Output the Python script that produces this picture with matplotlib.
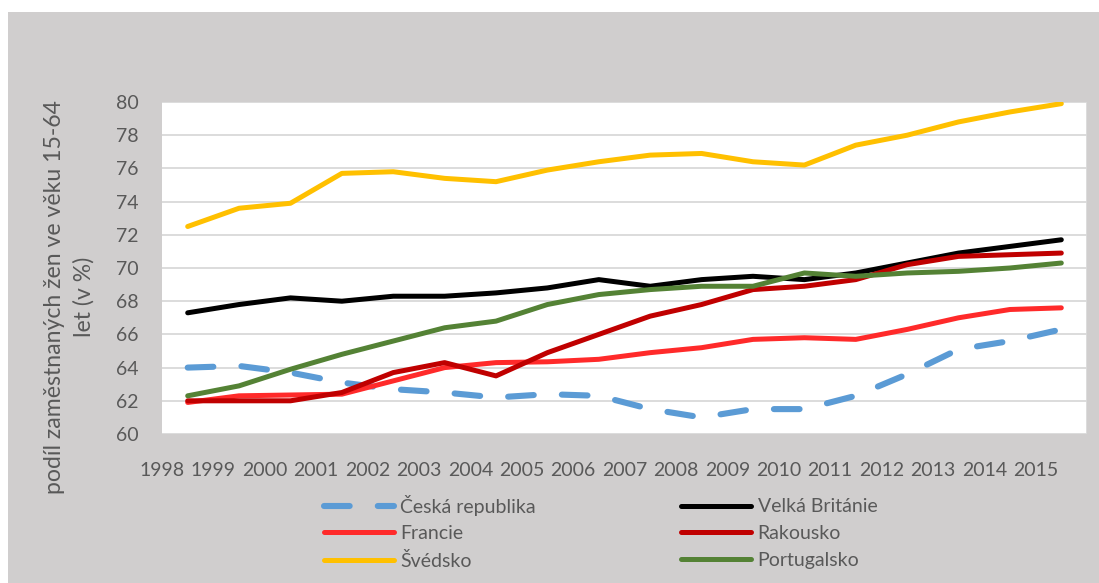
import numpy as np
import matplotlib
matplotlib.use("Agg")
import matplotlib.pyplot as plt
from matplotlib.patches import Rectangle

years = [1998, 1999, 2000, 2001, 2002, 2003, 2004, 2005, 2006,
         2007, 2008, 2009, 2010, 2011, 2012, 2013, 2014, 2015]

cesko = [64.0, 64.1, 63.7, 63.1, 62.7, 62.5, 62.2, 62.4, 62.3,
         61.5, 61.0, 61.5, 61.5, 62.3, 63.6, 65.1, 65.6, 66.3]
velka_britanie = [67.3, 67.8, 68.2, 68.0, 68.3, 68.3, 68.5, 68.8, 69.3,
                  68.9, 69.3, 69.5, 69.3, 69.7, 70.3, 70.9, 71.3, 71.7]
francie = [61.9, 62.3, 62.35, 62.4, 63.2, 64.0, 64.3, 64.35, 64.5,
           64.9, 65.2, 65.7, 65.8, 65.7, 66.3, 67.0, 67.5, 67.6]
rakousko = [62.0, 62.0, 62.0, 62.5, 63.7, 64.3, 63.5, 64.9, 66.0,
            67.1, 67.8, 68.7, 68.9, 69.3, 70.2, 70.7, 70.8, 70.9]
svedsko = [72.5, 73.6, 73.9, 75.7, 75.8, 75.4, 75.2, 75.9, 76.4,
           76.8, 76.9, 76.4, 76.2, 77.4, 78.0, 78.8, 79.4, 79.9]
portugalsko = [62.3, 62.9, 63.9, 64.8, 65.6, 66.4, 66.8, 67.8, 68.4,
               68.7, 68.9, 68.9, 69.7, 69.5, 69.7, 69.8, 70.0, 70.3]

TEXT = "#595959"
plt.rcParams["font.family"] = ["Lato", "DejaVu Sans"]

fig = plt.figure(figsize=(10.99, 5.83), dpi=100)
fig.patch.set_facecolor("white")
fig.patches.append(Rectangle((8 / 1099, 0), 1, 1 - 12 / 583, transform=fig.transFigure,
                             facecolor="#D0CECE", edgecolor="none", zorder=-10))

ax = fig.add_axes([162 / 1099, 1 - 434 / 583, 925 / 1099, 332 / 583])
ax.set_facecolor("white")

x = np.arange(len(years))
lw = 3.6
l_cz, = ax.plot(x, cesko, color="#5B9BD5", lw=4.4, dashes=(4.2, 4.6),
                dash_capstyle="round", solid_capstyle="round", label="Česká republika")
l_vb, = ax.plot(x, velka_britanie, color="black", lw=lw, solid_capstyle="round",
                label="Velká Británie")
l_fr, = ax.plot(x, francie, color="#FF2A2A", lw=lw, solid_capstyle="round", label="Francie")
l_at, = ax.plot(x, rakousko, color="#C00000", lw=lw, solid_capstyle="round", label="Rakousko")
l_se, = ax.plot(x, svedsko, color="#FFC000", lw=lw, solid_capstyle="round", label="Švédsko")
l_pt, = ax.plot(x, portugalsko, color="#548235", lw=lw, solid_capstyle="round",
                label="Portugalsko")

ax.set_xlim(-0.5, len(years) - 0.5)
ax.set_ylim(60, 80)
ax.set_yticks(np.arange(60, 81, 2))
ax.set_xticks(x - 0.5)
ax.set_xticklabels([str(y) for y in years])
ax.set_xticks(np.arange(-0.5, len(years), 1), minor=True)

ax.grid(True, which="minor", axis="x", color="#D9D9D9", lw=1.3)
ax.grid(True, which="major", axis="y", color="#D9D9D9", lw=1.3)
ax.set_axisbelow(True)
for s in ax.spines.values():
    s.set_visible(False)

ax.tick_params(axis="both", which="both", length=0, labelsize=14, labelcolor=TEXT)
ax.tick_params(axis="y", pad=17)
ax.tick_params(axis="x", pad=20)

ax.set_ylabel("podíl zaměstnaných žen ve věku 15-64\nlet (v %)", fontsize=16.6,
              color=TEXT, linespacing=1.5)
ax.yaxis.set_label_coords(-0.0724, 0.413)

handles = [l_cz, l_fr, l_se, l_vb, l_at, l_pt]
leg = fig.legend(handles=handles, labels=[h.get_label() for h in handles],
                 loc="upper left", bbox_to_anchor=(306 / 1099, 1 - 477 / 583),
                 ncol=2, frameon=False, fontsize=14, handlelength=3.6,
                 handletextpad=0.35, columnspacing=7.45, labelspacing=0.5)
for t in leg.get_texts():
    t.set_color(TEXT)

fig.savefig("out.png", dpi=100)
